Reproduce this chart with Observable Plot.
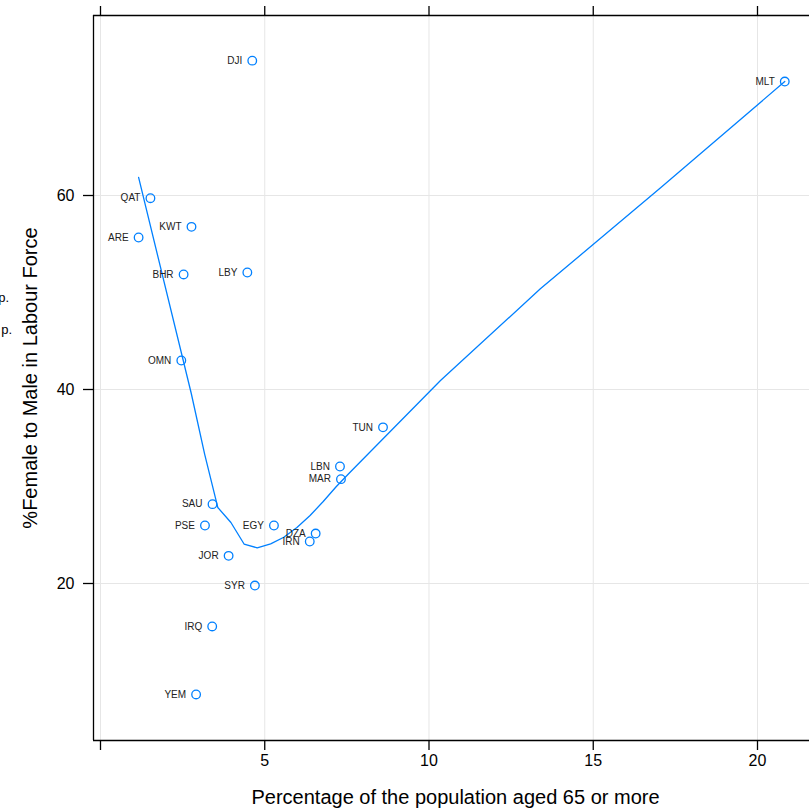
<!DOCTYPE html>
<html>
<head>
<meta charset="utf-8">
<script src="https://cdn.jsdelivr.net/npm/d3@7"></script>
<script src="https://cdn.jsdelivr.net/npm/@observablehq/plot@0.6"></script>
<style>
  html, body { margin: 0; padding: 0; background: #fff; }
  #wrap { position: relative; width: 809px; height: 811px; overflow: hidden; font-family: "Liberation Sans", Arial, sans-serif; }
  .side { position: absolute; font-size: 13px; color: #000; white-space: nowrap; text-align: right; }
</style>
</head>
<body>
<div id="wrap">
  <div class="side" style="right:800px; top:290px;">p.</div>
  <div class="side" style="right:797px; top:322px;">p.</div>
</div>
<script>
// Country codes, share of population aged 65+, and female-to-male labour force ratio
const codes = ["DJI", "MLT", "QAT", "KWT", "ARE", "BHR", "LBY", "OMN", "TUN", "LBN",
               "MAR", "SAU", "PSE", "EGY", "DZA", "IRN", "JOR", "SYR", "IRQ", "YEM"];
const pctOld = [4.62, 20.83, 1.52, 2.77, 1.16, 2.53, 4.47, 2.46, 8.60, 7.29,
                7.32, 3.41, 3.18, 5.28, 6.55, 6.37, 3.90, 4.70, 3.40, 2.91];
const femaleRatio = [73.9, 71.75, 59.72, 56.77, 55.67, 51.86, 52.06, 42.99, 36.10, 32.06,
                     30.76, 28.18, 25.98, 25.98, 25.15, 24.33, 22.85, 19.79, 15.57, 8.56];

// Loess smooth through the points
const smoothX = [1.16, 2.76, 3.17, 3.57, 3.97, 4.37, 4.77, 5.18, 5.58, 5.98,
                 6.38, 6.78, 7.18, 7.59, 10.35, 13.39, 17.05, 20.83];
const smoothY = [61.86, 39.64, 33.34, 27.84, 26.29, 24.07, 23.68, 24.09, 24.77, 25.77,
                 27.01, 28.45, 30.0, 31.44, 40.93, 50.38, 60.79, 71.75];

// Axis ticks and labels
const xTicks = [0, 5, 10, 15, 20];
const xTickLabels = ["", "5", "10", "15", "20"];
const yTicks = [20, 40, 60];
const xTitle = "Percentage of the population aged 65 or more";
const yTitle = "%Female to Male in Labour Force";

const points = codes.map((c, i) => ({code: c, x: pctOld[i], y: femaleRatio[i]}));
const smooth = smoothX.map((x, i) => ({x, y: smoothY[i]}));

const xDomain = [-0.213, 21.583];
const yDomain = [3.814, 78.557];
const blue = "#0080ff";

const chart = Plot.plot({
  width: 809,
  height: 811,
  marginLeft: 93,
  marginRight: 0,
  marginTop: 15,
  marginBottom: 71,
  style: {fontFamily: "'Liberation Sans', Arial, sans-serif", fontSize: "16px", color: "#000", background: "#fff"},
  x: {domain: xDomain},
  y: {domain: yDomain},
  marks: [
    Plot.gridX(xTicks, {stroke: "#e6e6e6", strokeOpacity: 1, strokeWidth: 1}),
    Plot.gridY(yTicks, {stroke: "#e6e6e6", strokeOpacity: 1, strokeWidth: 1}),
    Plot.ruleX([xDomain[0]], {stroke: "#000", strokeWidth: 1.3}),
    Plot.ruleY(yDomain, {stroke: "#000", strokeWidth: 1.3}),
    Plot.axisX({anchor: "bottom", ticks: xTicks, tickSize: 10, tickPadding: 4, strokeWidth: 1.3,
                tickFormat: (d) => xTickLabels[xTicks.indexOf(d)], label: null, fontSize: 16}),
    Plot.axisX({anchor: "top", ticks: xTicks, tickSize: 10, strokeWidth: 1.3,
                tickFormat: () => "", label: null}),
    Plot.axisY({anchor: "left", ticks: yTicks, tickSize: 10, tickPadding: 9, strokeWidth: 1.3,
                label: null, fontSize: 16}),
    Plot.text([xTitle], {frameAnchor: "bottom", lineAnchor: "middle", textAnchor: "middle",
                         dy: 57, dx: 4, fontSize: 20, fill: "#000"}),
    Plot.text([yTitle], {frameAnchor: "left", lineAnchor: "middle", textAnchor: "middle",
                         dx: -63, rotate: -90, fontSize: 20, fill: "#000"}),
    Plot.line(smooth, {x: "x", y: "y", stroke: blue, strokeWidth: 1.3}),
    Plot.dot(points, {x: "x", y: "y", r: 4.3, stroke: blue, strokeWidth: 1.3, fill: "none"}),
    Plot.text(points, {x: "x", y: "y", text: "code", textAnchor: "end", dx: -10, fontSize: 10, fill: "#222"})
  ]
});

document.getElementById("wrap").prepend(chart);
chart.style.position = "absolute";
chart.style.left = "0";
chart.style.top = "0";
</script>
</body>
</html>
